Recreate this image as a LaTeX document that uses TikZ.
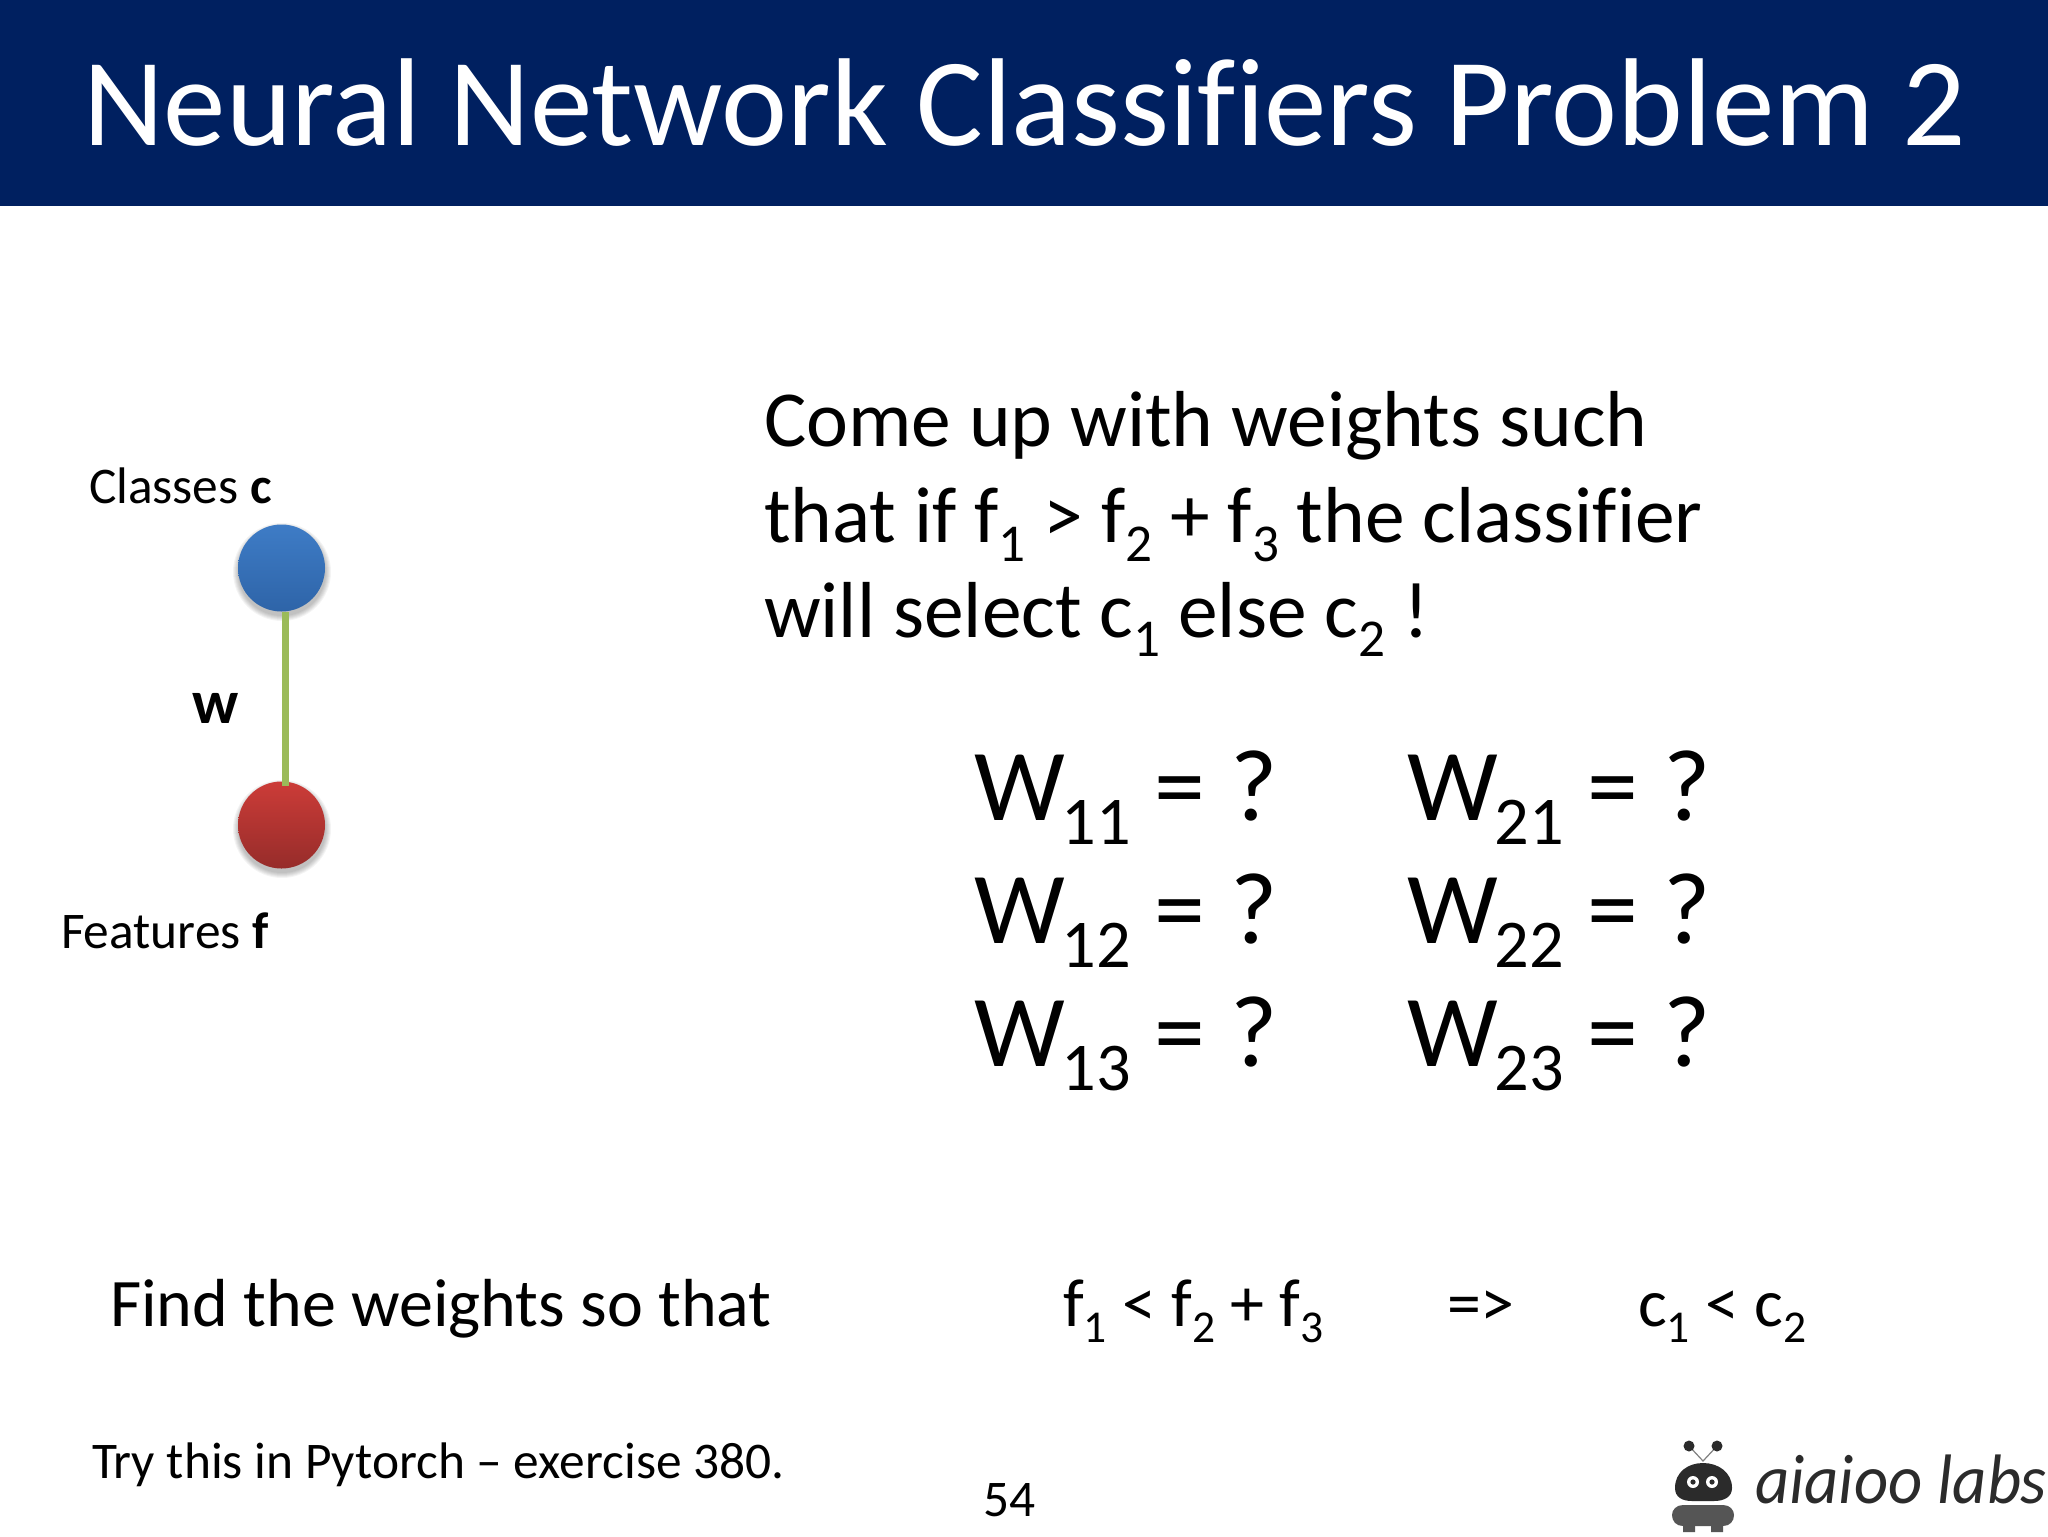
\documentclass[tikz,border=0pt]{standalone}
\usepackage{fontspec}
\setmainfont{Carlito}[Ligatures=NoCommon]
\newcommand\subs[1]{\raisebox{-0.24em}{\fontsize{\the\dimexpr.67em\relax}{1pt}\selectfont #1}}
\newcommand\fs[1]{\fontsize{#1}{#1}\selectfont}
\newcommand\wgt[1]{W\kern-1.5pt\subs{#1} = \kern1.5pt?}
\definecolor{navy}{HTML}{002060}
\definecolor{linegreen}{HTML}{9BBB59}
\definecolor{logoink}{HTML}{2B2B2B}
\definecolor{bluetop}{RGB}{62,124,198}
\definecolor{bluebot}{RGB}{46,100,168}
\definecolor{redtop}{RGB}{204,60,56}
\definecolor{redbot}{RGB}{150,44,42}
\tikzset{
  txt/.style={anchor=base west,inner sep=0pt,outer sep=0pt,text=black},
  neuron/.style={circle,minimum size=43.5pt,inner sep=0pt,outer sep=0pt},
  softshadow/.style={fill=black,opacity=.045,draw=none},
  synapse/.style={draw=linegreen,line width=3.2pt},
  weight/.style={txt,font=\fs{51}},
  logopart/.style={fill=logoink,draw=none}
}
\begin{document}
\begin{tikzpicture}[x=.5pt,y=-.5pt]
\useasboundingbox (0,0) rectangle (2048,1536);
\begin{scope}
\clip (0,0) rectangle (2048,1536);
\fill[white] (0,0) rectangle (2048,1536);
\fill[navy] (0,0) rectangle (2048,206);
\node[txt,text=white,font=\fs{62.5}] (title) at (83,145) {Neural Network Classifiers Problem 2};

\node[txt,font=\fs{39.7}] (b1) at (764,446) {Come up with weights such};
\node[txt,font=\fs{39.7}] (b2) at (764,542) {that if f\subs{1} > f\subs{2} + f\subs{3} the classifier};
\node[txt,font=\fs{39.7}] (b3) at (764,637) {will select c\subs{1} else c\subs{2} !};

\node[weight] (w11) at (974,820) {\wgt{11}};
\node[weight] (w12) at (974,943) {\wgt{12}};
\node[weight] (w13) at (974,1066) {\wgt{13}};
\node[weight] (w21) at (1407,820) {\wgt{21}};
\node[weight] (w22) at (1407,943) {\wgt{22}};
\node[weight] (w23) at (1407,1066) {\wgt{23}};

\foreach \r in {49,48,47,46,45,44}{
  \fill[softshadow] (282,572) circle (\r);
  \fill[softshadow] (282,829) circle (\r);
}
\node[neuron,top color=bluetop,bottom color=bluebot] (c) at (281.5,568) {};
\node[neuron,top color=redtop,bottom color=redbot] (f) at (281.5,825) {};
\draw[synapse] ([xshift=2pt]c.south) -- ([xshift=2pt,yshift=-2pt]f.north);

\node[txt,font=\fs{25.7}] (cl) at (89,503) {Classes \textbf{c}};
\node[txt,font=\fs{25.7}] (fl) at (61,948) {Features \textbf{f}};
\node[txt,font=\fs{31}\bfseries] (wl) at (192,723) {w};

\node[txt,font=\fs{34}] (find) at (110,1326) {Find the weights so that};
\node[txt,font=\fs{34}] (ineq) at (1063,1326) {f\subs{1} < f\subs{2} + f\subs{3}};
\node[txt,font=\fs{34}] (impl) at (1447,1326) {=>};
\node[txt,font=\fs{34}] (res) at (1638,1326) {c\subs{1} < c\subs{2}};
\node[txt,font=\fs{25.7}] (try) at (92,1478) {Try this in Pytorch – exercise 380.};
\node[txt,font=\fs{25.7}] (page) at (983,1516) {54};

% logo
\draw[draw=gray,line width=.6pt] (1689,1446) -- (1703,1461) -- (1717,1446);
\fill[logopart] (1689,1446) circle (5.5);
\fill[logopart] (1717,1446) circle (5.5);
\fill[logopart] (1675,1488) .. controls (1675,1472) and (1688,1463) .. (1703,1463)
  .. controls (1718,1463) and (1732,1472) .. (1732,1488)
  .. controls (1732,1497) and (1724,1501) .. (1714,1501) -- (1692,1501)
  .. controls (1682,1501) and (1675,1497) .. (1675,1488) -- cycle;
\fill[white] (1693,1482) circle (6) (1712,1482) circle (6);
\fill[logopart] (1693,1482) circle (2.6) (1712,1482) circle (2.6);
\fill[fill=logoink!80] (1683,1505) -- (1723,1505) .. controls (1730,1505) and (1734,1510) .. (1734,1515)
  .. controls (1734,1521) and (1730,1526) .. (1723,1526) -- (1683,1526)
  .. controls (1676,1526) and (1672,1521) .. (1672,1515)
  .. controls (1672,1510) and (1676,1505) .. (1683,1505) -- cycle;
\fill[fill=logoink!80] (1683,1526) rectangle (1695,1532) (1711,1526) rectangle (1723,1532);
\node[txt,text=logoink,font=\fs{35}\itshape] (logo) at (1755,1503) {\resizebox{146pt}{\height}{aiaioo labs}};
\end{scope}
\end{tikzpicture}
\end{document}
